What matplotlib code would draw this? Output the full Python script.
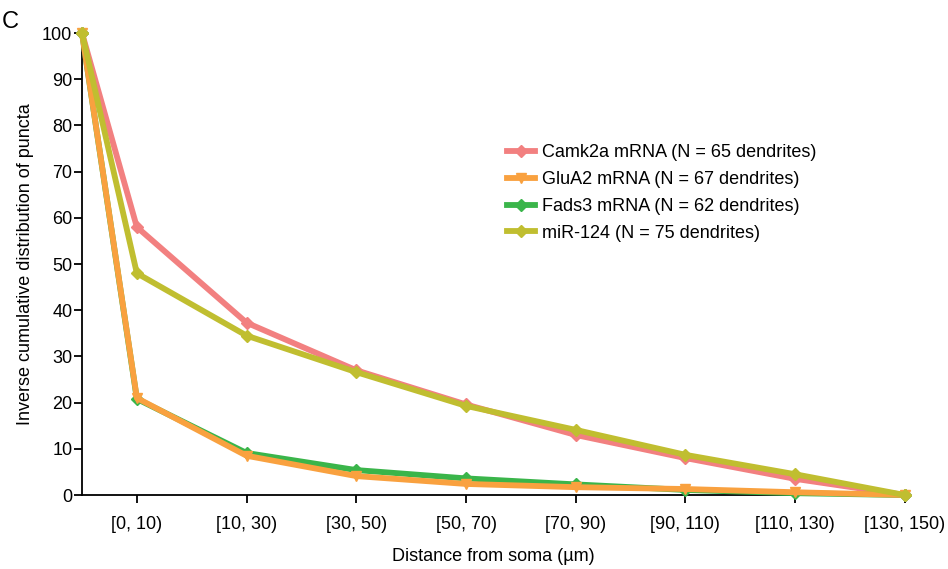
import matplotlib.pyplot as plt

plt.rcParams['font.family'] = ['Liberation Sans', 'DejaVu Sans']

# interval bins (first point is the 100 % start at the soma)
bins = ['[0, 10)', '[10, 30)', '[30, 50)', '[50, 70)', '[70, 90)',
        '[90, 110)', '[110, 130)', '[130, 150)']
x_pos = [-0.5, 0, 1, 2, 3, 4, 5, 6, 7]

camk2a = [100, 58.0, 37.3, 27.0, 19.6, 13.0, 8.0, 3.5, 0]
glua2 = [100, 21.0, 8.5, 4.1, 2.4, 1.7, 1.3, 0.6, 0]
fads3 = [100, 20.8, 9.1, 5.4, 3.6, 2.3, 1.1, 0.4, 0]
mir124 = [100, 48.0, 34.5, 26.6, 19.3, 14.1, 8.7, 4.5, 0]

labels = ['Camk2a mRNA (N = 65 dendrites)', 'GluA2 mRNA (N = 67 dendrites)',
          'Fads3 mRNA (N = 62 dendrites)', 'miR-124 (N = 75 dendrites)']

fig = plt.figure(figsize=(9.48, 5.69), dpi=100)
ax = fig.add_axes([0.0865, 0.130, 0.868, 0.812])

lw = 4.2
h_camk, = ax.plot(x_pos, camk2a, color='#F28080', lw=lw, marker='D', ms=6.5, zorder=3)
h_fads, = ax.plot(x_pos, fads3, color='#3AB54A', lw=lw, marker='D', ms=6.5, zorder=4)
h_glua, = ax.plot(x_pos, glua2, color='#F9A13F', lw=lw, marker='v', ms=7.5, zorder=5)
h_mir, = ax.plot(x_pos, mir124, color='#C0BE30', lw=lw, marker='D', ms=6.5, zorder=6)
for h in (h_camk, h_fads, h_glua, h_mir):
    h.set_clip_on(False)

ax.legend([h_camk, h_glua, h_fads, h_mir], labels, frameon=False, fontsize=13,
          loc='upper left', bbox_to_anchor=(0.497, 0.795), handlelength=1.55,
          handletextpad=0.35, labelspacing=0.55)

ax.set_xlim(-0.5, 7)
ax.set_ylim(0, 100)
ax.set_xticks(range(8))
ax.set_xticklabels(bins, fontsize=13)
ax.set_yticks(range(0, 101, 10))
ax.tick_params(axis='y', labelsize=13, length=6, width=1.3, pad=1)
ax.tick_params(axis='x', length=6, width=1.3, pad=9)
for s in ['top', 'right']:
    ax.spines[s].set_visible(False)
for s in ['left', 'bottom']:
    ax.spines[s].set_linewidth(1.3)

ax.set_ylabel('Inverse cumulative distribution of puncta', fontsize=13, labelpad=6)
ax.set_xlabel('Distance from soma (µm)', fontsize=13, labelpad=11)

fig.text(0.002, 0.962, 'C', fontsize=17, ha='left', va='center')
# cut-off label of the panel above
fig.text(0.51, 1.009, 'Distance from soma (µm)', fontsize=13, ha='center',
         va='baseline', color='#555555')

fig.savefig('out.png', dpi=100)
